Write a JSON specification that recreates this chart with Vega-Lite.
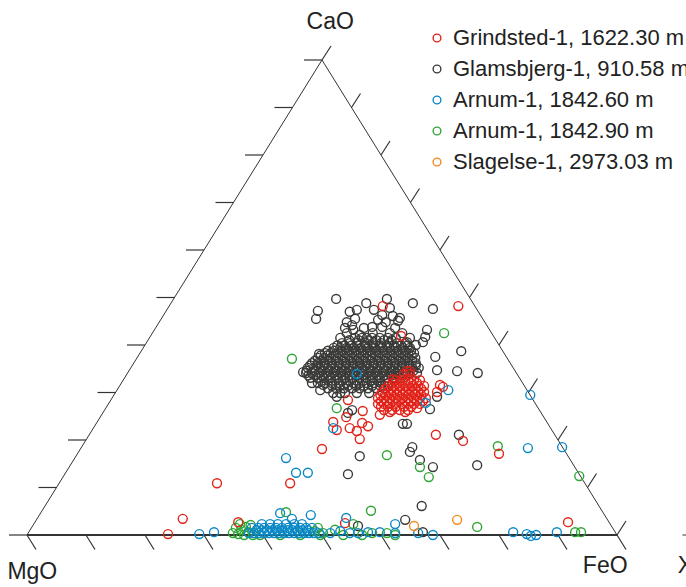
{
"$schema":"https://vega.github.io/schema/vega-lite/v6.json",
"width":686,"height":587,"padding":0,"autosize":{"type":"none"},
"background":"white",
"config":{"view":{"stroke":null}},
"datasets":{
"edges":[{"x":0,"y":0,"o":0},{"x":50,"y":100,"o":1},{"x":100,"y":0,"o":2}],
"base":[{"x":0,"y":0,"x2":100}],
"stub":[{"x":111.1,"y":0,"x2":112}],
"leftTicks":[{"x":0,"y":0},{"x":5,"y":10},{"x":10,"y":20},{"x":15,"y":30},{"x":20,"y":40},{"x":25,"y":50},{"x":30,"y":60},{"x":35,"y":70},{"x":40,"y":80},{"x":45,"y":90},{"x":50,"y":100}],
"baseTicks":[{"x":0,"y":0},{"x":10,"y":0},{"x":20,"y":0},{"x":30,"y":0},{"x":40,"y":0},{"x":50,"y":0},{"x":60,"y":0},{"x":70,"y":0},{"x":80,"y":0},{"x":90,"y":0},{"x":100,"y":0}],
"rightTicks":[{"x":100,"y":0},{"x":95,"y":10},{"x":90,"y":20},{"x":85,"y":30},{"x":80,"y":40},{"x":75,"y":50},{"x":70,"y":60},{"x":65,"y":70},{"x":60,"y":80},{"x":55,"y":90},{"x":50,"y":100}],
"labels":[{"label":"CaO","x":51.4,"y":106.5},{"label":"MgO","x":0.9,"y":-9.3},{"label":"FeO","x":98.0,"y":-8.0},{"label":"X","x":111.6,"y":-8.0}],
"glamsbjerg":[
{"x":52.4,"y":49.7},{"x":57.5,"y":48.8},{"x":61.0,"y":49.7},{"x":65.4,"y":48.8},{"x":68.8,"y":47.6},{"x":49.3,"y":47.2},{"x":49.0,"y":45.5},{"x":54.7,"y":47.0},{"x":55.9,"y":47.4},{"x":55.6,"y":45.5},{"x":54.2,"y":44.8},{"x":58.8,"y":47.4},{"x":60.2,"y":46.3},{"x":61.5,"y":47.8},{"x":62.0,"y":46.1},{"x":62.9,"y":45.1},{"x":63.2,"y":45.7},{"x":58.5,"y":43.8},{"x":60.2,"y":43.8},{"x":61.5,"y":42.5},{"x":58.6,"y":42.5},{"x":55.3,"y":43.2},{"x":54.2,"y":42.5},{"x":56.4,"y":42.1},{"x":57.6,"y":41.5},{"x":67.8,"y":43.2},{"x":67.5,"y":41.7},{"x":67.1,"y":40.6},{"x":65.9,"y":40.0},{"x":64.4,"y":40.6},{"x":49.5,"y":38.1},{"x":69.2,"y":37.5},{"x":73.6,"y":38.7},{"x":72.9,"y":34.5},{"x":69.5,"y":34.7},{"x":46.8,"y":34.3},{"x":48.3,"y":32.0},{"x":49.7,"y":30.5},{"x":50.2,"y":31.6},{"x":76.4,"y":34.1},{"x":68.3,"y":26.5},{"x":54.4,"y":25.7},{"x":55.1,"y":26.3},{"x":63.7,"y":23.4},{"x":64.4,"y":23.4},{"x":73.2,"y":21.1},{"x":65.3,"y":18.5},{"x":64.9,"y":17.5},{"x":66.6,"y":15.8},{"x":68.8,"y":14.3},{"x":76.3,"y":14.7},{"x":66.9,"y":6.1},{"x":64.1,"y":3.2},{"x":67.1,"y":0.6},{"x":56.4,"y":16.6},{"x":54.4,"y":12.8},{"x":56.1,"y":1.9},{"x":53.1,"y":29.9},{"x":52.5,"y":29.1},{"x":69.5,"y":29.1},{"x":53.9,"y":43.6},{"x":55.1,"y":44.2},{"x":59.5,"y":45.3},{"x":60.8,"y":44.8},{"x":62.4,"y":43.6},{"x":63.6,"y":42.5},{"x":57.1,"y":43.6},{"x":64.9,"y":41.5},{"x":53.1,"y":41.5},
{"x":55.6,"y":41.5},{"x":56.8,"y":41.5},{"x":58.5,"y":41.5},{"x":59.8,"y":41.5},{"x":61.2,"y":41.5},{"x":62.5,"y":41.5},
{"x":54.6,"y":41.0},{"x":56.2,"y":41.0},{"x":57.9,"y":41.0},{"x":59.2,"y":41.0},{"x":60.5,"y":41.0},{"x":61.8,"y":41.0},
{"x":53.4,"y":40.4},{"x":54.7,"y":40.4},{"x":55.9,"y":40.4},{"x":57.3,"y":40.4},{"x":58.6,"y":40.4},{"x":60.0,"y":40.4},{"x":61.4,"y":40.4},{"x":62.7,"y":40.4},{"x":64.1,"y":40.4},
{"x":52.6,"y":39.9},{"x":53.8,"y":39.9},{"x":55.0,"y":39.9},{"x":56.2,"y":39.9},{"x":57.4,"y":39.9},{"x":58.6,"y":39.9},{"x":59.8,"y":39.9},{"x":61.0,"y":39.9},{"x":62.2,"y":39.9},{"x":63.4,"y":39.9},{"x":64.5,"y":39.9},
{"x":52.0,"y":39.4},{"x":53.1,"y":39.4},{"x":54.2,"y":39.4},{"x":55.4,"y":39.4},{"x":56.6,"y":39.4},{"x":57.8,"y":39.4},{"x":59.0,"y":39.4},{"x":60.2,"y":39.4},{"x":61.4,"y":39.4},{"x":62.5,"y":39.4},{"x":63.7,"y":39.4},{"x":64.9,"y":39.4},
{"x":51.0,"y":38.8},{"x":52.1,"y":38.8},{"x":53.3,"y":38.8},{"x":54.5,"y":38.8},{"x":55.7,"y":38.8},{"x":56.9,"y":38.8},{"x":58.1,"y":38.8},{"x":59.2,"y":38.8},{"x":60.4,"y":38.8},{"x":61.6,"y":38.8},{"x":62.8,"y":38.8},{"x":64.0,"y":38.8},{"x":65.1,"y":38.8},
{"x":50.5,"y":38.3},{"x":51.5,"y":38.3},{"x":52.7,"y":38.3},{"x":53.9,"y":38.3},{"x":55.1,"y":38.3},{"x":56.3,"y":38.3},{"x":57.5,"y":38.3},{"x":58.6,"y":38.3},{"x":59.8,"y":38.3},{"x":61.0,"y":38.3},{"x":62.2,"y":38.3},{"x":63.4,"y":38.3},{"x":64.6,"y":38.3},{"x":65.6,"y":38.3},
{"x":49.8,"y":37.8},{"x":50.9,"y":37.8},{"x":52.1,"y":37.8},{"x":53.3,"y":37.8},{"x":54.5,"y":37.8},{"x":55.7,"y":37.8},{"x":56.9,"y":37.8},{"x":58.1,"y":37.8},{"x":59.2,"y":37.8},{"x":60.4,"y":37.8},{"x":61.6,"y":37.8},{"x":62.8,"y":37.8},{"x":64.0,"y":37.8},{"x":65.2,"y":37.8},
{"x":49.3,"y":37.3},{"x":50.3,"y":37.3},{"x":51.5,"y":37.3},{"x":52.7,"y":37.3},{"x":53.9,"y":37.3},{"x":55.1,"y":37.3},{"x":56.3,"y":37.3},{"x":57.5,"y":37.3},{"x":58.6,"y":37.3},{"x":59.8,"y":37.3},{"x":61.0,"y":37.3},{"x":62.2,"y":37.3},{"x":63.4,"y":37.3},{"x":64.6,"y":37.3},{"x":65.8,"y":37.3},
{"x":48.8,"y":36.7},{"x":49.9,"y":36.7},{"x":51.1,"y":36.7},{"x":52.3,"y":36.7},{"x":53.5,"y":36.7},{"x":54.7,"y":36.7},{"x":55.9,"y":36.7},{"x":57.0,"y":36.7},{"x":58.2,"y":36.7},{"x":59.4,"y":36.7},{"x":60.6,"y":36.7},{"x":61.8,"y":36.7},{"x":63.0,"y":36.7},{"x":64.1,"y":36.7},{"x":65.3,"y":36.7},
{"x":48.3,"y":36.2},{"x":49.3,"y":36.2},{"x":50.5,"y":36.2},{"x":51.7,"y":36.2},{"x":52.9,"y":36.2},{"x":54.1,"y":36.2},{"x":55.3,"y":36.2},{"x":56.4,"y":36.2},{"x":57.6,"y":36.2},{"x":58.8,"y":36.2},{"x":60.0,"y":36.2},{"x":61.2,"y":36.2},{"x":62.4,"y":36.2},{"x":63.6,"y":36.2},{"x":64.7,"y":36.2},{"x":65.9,"y":36.2},
{"x":48.0,"y":35.7},{"x":49.2,"y":35.7},{"x":50.4,"y":35.7},{"x":51.6,"y":35.7},{"x":52.8,"y":35.7},{"x":54.0,"y":35.7},{"x":55.2,"y":35.7},{"x":56.4,"y":35.7},{"x":57.5,"y":35.7},{"x":58.7,"y":35.7},{"x":59.9,"y":35.7},{"x":61.1,"y":35.7},{"x":62.3,"y":35.7},{"x":63.5,"y":35.7},{"x":64.7,"y":35.7},{"x":65.9,"y":35.7},
{"x":47.6,"y":35.2},{"x":48.6,"y":35.2},{"x":49.8,"y":35.2},{"x":51.0,"y":35.2},{"x":52.2,"y":35.2},{"x":53.4,"y":35.2},{"x":54.6,"y":35.2},{"x":55.8,"y":35.2},{"x":56.9,"y":35.2},{"x":58.1,"y":35.2},{"x":59.3,"y":35.2},{"x":60.5,"y":35.2},{"x":61.7,"y":35.2},{"x":62.9,"y":35.2},{"x":64.1,"y":35.2},{"x":65.3,"y":35.2},{"x":66.4,"y":35.2},
{"x":47.4,"y":34.6},{"x":48.9,"y":34.6},{"x":50.1,"y":34.6},{"x":51.3,"y":34.6},{"x":52.5,"y":34.6},{"x":53.7,"y":34.6},{"x":54.8,"y":34.6},{"x":56.0,"y":34.6},{"x":57.2,"y":34.6},{"x":58.4,"y":34.6},{"x":59.6,"y":34.6},{"x":60.8,"y":34.6},{"x":62.0,"y":34.6},{"x":63.1,"y":34.6},{"x":64.3,"y":34.6},{"x":65.5,"y":34.6},
{"x":47.3,"y":34.1},{"x":48.3,"y":34.1},{"x":49.5,"y":34.1},{"x":50.7,"y":34.1},{"x":51.9,"y":34.1},{"x":53.1,"y":34.1},{"x":54.2,"y":34.1},{"x":55.4,"y":34.1},{"x":56.6,"y":34.1},{"x":57.8,"y":34.1},{"x":59.0,"y":34.1},{"x":60.2,"y":34.1},{"x":61.4,"y":34.1},{"x":62.5,"y":34.1},{"x":63.7,"y":34.1},{"x":64.9,"y":34.1},{"x":66.1,"y":34.1},
{"x":47.7,"y":33.6},{"x":48.9,"y":33.6},{"x":50.0,"y":33.6},{"x":51.1,"y":33.6},{"x":52.3,"y":33.6},{"x":53.5,"y":33.6},{"x":54.7,"y":33.6},{"x":55.9,"y":33.6},{"x":57.0,"y":33.6},{"x":58.2,"y":33.6},{"x":59.4,"y":33.6},{"x":60.6,"y":33.6},{"x":61.8,"y":33.6},{"x":63.0,"y":33.6},
{"x":48.0,"y":33.1},{"x":49.2,"y":33.1},{"x":50.3,"y":33.1},{"x":51.5,"y":33.1},{"x":52.7,"y":33.1},{"x":53.9,"y":33.1},{"x":55.1,"y":33.1},{"x":56.3,"y":33.1},{"x":57.5,"y":33.1},{"x":58.6,"y":33.1},{"x":59.8,"y":33.1},{"x":61.0,"y":33.1},{"x":62.2,"y":33.1},{"x":63.4,"y":33.1},
{"x":49.9,"y":32.5},{"x":51.1,"y":32.5},{"x":52.3,"y":32.5},{"x":53.5,"y":32.5},{"x":54.7,"y":32.5},{"x":55.9,"y":32.5},{"x":57.0,"y":32.5},{"x":58.2,"y":32.5},{"x":59.4,"y":32.5},{"x":60.6,"y":32.5},
{"x":49.3,"y":32.0},{"x":50.5,"y":32.0},{"x":51.7,"y":32.0},{"x":52.9,"y":32.0},{"x":54.1,"y":32.0},{"x":55.3,"y":32.0},{"x":56.4,"y":32.0},{"x":57.6,"y":32.0},{"x":58.8,"y":32.0},{"x":60.0,"y":32.0},{"x":61.2,"y":32.0},
{"x":51.7,"y":31.4},{"x":53.0,"y":31.4},{"x":54.4,"y":31.4},{"x":55.8,"y":31.4},{"x":57.1,"y":31.4},{"x":58.5,"y":31.4},{"x":59.9,"y":31.4},
{"x":51.0,"y":30.9},{"x":52.4,"y":30.9},{"x":53.7,"y":30.9},{"x":55.1,"y":30.9},{"x":56.4,"y":30.9},{"x":57.8,"y":30.9},{"x":59.2,"y":30.9},{"x":60.5,"y":30.9},
{"x":51.9,"y":29.9},{"x":53.9,"y":29.9},{"x":55.9,"y":29.9},{"x":58.0,"y":29.9}
],
"arnum90":[
{"x":70.7,"y":42.5},{"x":44.9,"y":37.1},{"x":52.5,"y":26.7},{"x":61.0,"y":16.8},{"x":79.8,"y":18.7},{"x":66.6,"y":14.3},{"x":68.1,"y":12.2},{"x":93.6,"y":12.4},{"x":76.3,"y":1.7},{"x":92.9,"y":0.6},{"x":93.9,"y":0.6},{"x":43.9,"y":4.8},{"x":58.3,"y":5.1},{"x":55.3,"y":2.3},{"x":49.3,"y":1.5},{"x":50.2,"y":0.4},{"x":53.6,"y":0.0},{"x":56.8,"y":0.0},{"x":61.0,"y":0.4},{"x":62.4,"y":0.0},{"x":58.5,"y":0.4},{"x":52.2,"y":1.1},
{"x":34.9,"y":0.4},{"x":35.4,"y":1.5},{"x":35.8,"y":0.2},{"x":36.3,"y":1.1},{"x":36.8,"y":0.0},{"x":37.1,"y":1.7},{"x":37.5,"y":0.6},{"x":37.9,"y":2.1},{"x":38.3,"y":0.0},{"x":39.5,"y":0.0},{"x":42.9,"y":0.0},{"x":46.3,"y":0.0},{"x":48.8,"y":0.8},{"x":49.7,"y":0.0},{"x":36.1,"y":2.3}
],
"grindsted":[
{"x":60.3,"y":48.2},{"x":73.1,"y":48.2},{"x":63.4,"y":41.9},{"x":64.4,"y":34.5},{"x":64.9,"y":34.5},{"x":62.0,"y":32.8},{"x":70.0,"y":31.6},{"x":70.5,"y":31.2},{"x":69.5,"y":30.1},{"x":54.4,"y":28.4},{"x":56.9,"y":26.1},{"x":54.1,"y":24.8},{"x":51.9,"y":23.8},{"x":54.7,"y":22.5},{"x":55.9,"y":21.9},{"x":56.8,"y":23.6},{"x":57.8,"y":22.9},{"x":56.4,"y":20.2},{"x":52.5,"y":22.1},{"x":69.3,"y":21.1},{"x":73.9,"y":19.8},{"x":50.0,"y":18.1},{"x":80.0,"y":17.1},{"x":91.7,"y":2.7},{"x":32.2,"y":10.9},{"x":44.6,"y":10.9},{"x":26.4,"y":3.4},{"x":23.9,"y":0.2},{"x":35.8,"y":2.7},{"x":53.9,"y":2.5},{"x":59.8,"y":25.3},{"x":61.5,"y":25.9},{"x":64.1,"y":25.9},{"x":66.1,"y":26.7},
{"x":63.9,"y":33.9},{"x":64.9,"y":33.9},
{"x":62.5,"y":32.6},{"x":63.6,"y":32.6},{"x":64.6,"y":32.6},{"x":65.6,"y":32.6},{"x":66.6,"y":32.6},
{"x":62.0,"y":32.0},{"x":63.1,"y":32.0},{"x":64.1,"y":32.0},{"x":65.1,"y":32.0},{"x":66.1,"y":32.0},
{"x":61.2,"y":31.4},{"x":62.2,"y":31.4},{"x":63.2,"y":31.4},{"x":64.2,"y":31.4},{"x":65.3,"y":31.4},{"x":66.3,"y":31.4},{"x":67.3,"y":31.4},
{"x":60.7,"y":30.8},{"x":61.7,"y":30.8},{"x":62.7,"y":30.8},{"x":63.7,"y":30.8},{"x":64.7,"y":30.8},{"x":65.8,"y":30.8},{"x":66.8,"y":30.8},
{"x":60.2,"y":30.1},{"x":61.2,"y":30.1},{"x":62.2,"y":30.1},{"x":63.2,"y":30.1},{"x":64.2,"y":30.1},{"x":65.3,"y":30.1},{"x":66.3,"y":30.1},{"x":67.3,"y":30.1},
{"x":59.9,"y":29.5},{"x":60.7,"y":29.5},{"x":61.7,"y":29.5},{"x":62.7,"y":29.5},{"x":63.7,"y":29.5},{"x":64.7,"y":29.5},{"x":65.8,"y":29.5},{"x":66.8,"y":29.5},
{"x":59.5,"y":28.8},{"x":60.5,"y":28.8},{"x":61.5,"y":28.8},{"x":62.5,"y":28.8},{"x":63.6,"y":28.8},{"x":64.6,"y":28.8},{"x":65.6,"y":28.8},{"x":66.6,"y":28.8},{"x":67.6,"y":28.8},
{"x":60.0,"y":28.2},{"x":61.0,"y":28.2},{"x":62.0,"y":28.2},{"x":63.0,"y":28.2},{"x":64.1,"y":28.2},{"x":65.1,"y":28.2},{"x":66.1,"y":28.2},{"x":67.1,"y":28.2},
{"x":59.5,"y":27.6},{"x":60.5,"y":27.6},{"x":61.5,"y":27.6},{"x":62.5,"y":27.6},{"x":63.6,"y":27.6},{"x":64.6,"y":27.6},{"x":65.6,"y":27.6},{"x":66.6,"y":27.6},
{"x":60.0,"y":27.0},{"x":61.2,"y":27.0},{"x":62.5,"y":27.0},{"x":63.9,"y":27.0},{"x":65.1,"y":27.0},
{"x":60.5,"y":26.3},{"x":61.9,"y":26.3},{"x":63.2,"y":26.3},{"x":64.6,"y":26.3}
],
"arnum60":[
{"x":55.9,"y":33.9},{"x":51.9,"y":22.5},{"x":67.6,"y":27.8},{"x":71.4,"y":30.5},{"x":85.3,"y":29.5},{"x":84.9,"y":18.3},{"x":90.7,"y":18.5},{"x":43.9,"y":16.2},{"x":45.6,"y":13.1},{"x":47.6,"y":13.1},{"x":42.9,"y":4.6},{"x":44.9,"y":3.4},{"x":48.1,"y":4.2},{"x":54.1,"y":3.6},{"x":29.2,"y":0.2},{"x":31.7,"y":0.6},{"x":62.4,"y":2.3},{"x":62.4,"y":0.4},{"x":66.3,"y":0.4},{"x":68.8,"y":0.0},{"x":59.8,"y":0.6},{"x":57.8,"y":0.6},{"x":56.1,"y":0.4},{"x":54.7,"y":0.4},{"x":82.4,"y":0.6},{"x":84.7,"y":0.2},{"x":85.4,"y":-0.2},{"x":86.3,"y":0.0},{"x":89.8,"y":0.6},{"x":53.1,"y":0.8},{"x":51.4,"y":0.4},
{"x":37.6,"y":0.4},{"x":38.5,"y":0.4},{"x":39.3,"y":0.4},{"x":40.2,"y":0.4},{"x":41.0,"y":0.4},{"x":41.9,"y":0.4},{"x":42.7,"y":0.4},{"x":43.6,"y":0.4},{"x":44.4,"y":0.4},{"x":45.3,"y":0.4},{"x":46.1,"y":0.4},{"x":47.0,"y":0.4},{"x":47.8,"y":0.4},{"x":48.6,"y":0.4},{"x":49.5,"y":0.4},
{"x":38.9,"y":1.0},{"x":39.8,"y":1.0},{"x":40.7,"y":1.0},{"x":41.6,"y":1.0},{"x":42.4,"y":1.0},{"x":43.3,"y":1.0},{"x":44.2,"y":1.0},{"x":45.0,"y":1.0},{"x":45.9,"y":1.0},{"x":46.7,"y":1.0},{"x":47.6,"y":1.0},
{"x":38.1,"y":1.5},{"x":39.2,"y":1.5},{"x":40.2,"y":1.5},{"x":41.2,"y":1.5},{"x":42.2,"y":1.5},{"x":43.2,"y":1.5},{"x":44.2,"y":1.5},{"x":45.3,"y":1.5},{"x":46.3,"y":1.5},{"x":47.3,"y":1.5},{"x":48.3,"y":1.5},
{"x":39.8,"y":2.3},{"x":41.2,"y":2.3},{"x":42.5,"y":2.3},{"x":43.9,"y":2.3},{"x":45.3,"y":2.3},{"x":46.6,"y":2.3}
],
"slagelse":[{"x":65.6,"y":1.9},{"x":72.9,"y":3.2}]
},
"encoding":{
"x":{"field":"x","type":"quantitative","scale":{"domain":[-4.576,111.695],"nice":false,"zero":false},"axis":null},
"y":{"field":"y","type":"quantitative","scale":{"domain":[-10.947,112.632],"nice":false,"zero":false},"axis":null}
},
"layer":[
{"data":{"name":"edges"},"mark":{"type":"line","color":"#333333","strokeWidth":1},"encoding":{"order":{"field":"o"}}},
{"data":{"name":"base"},"mark":{"type":"rule","color":"#333333","strokeWidth":2},"encoding":{"x2":{"field":"x2"}}},
{"data":{"name":"stub"},"mark":{"type":"rule","color":"#333333","strokeWidth":1},"encoding":{"x2":{"field":"x2"}}},
{"data":{"name":"leftTicks"},"mark":{"type":"rule","color":"#333333","strokeWidth":1.2,"x2Offset":-18},"encoding":{"x2":{"field":"x"},"y2":{"field":"y"}}},
{"data":{"name":"baseTicks"},"mark":{"type":"rule","color":"#333333","strokeWidth":1.2,"x2Offset":9,"y2Offset":14.5},"encoding":{"x2":{"field":"x"},"y2":{"field":"y"}}},
{"data":{"name":"rightTicks"},"mark":{"type":"rule","color":"#333333","strokeWidth":1.2,"x2Offset":9,"y2Offset":-14},"encoding":{"x2":{"field":"x"},"y2":{"field":"y"}}},
{"data":{"name":"glamsbjerg"},"mark":{"type":"point","shape":"circle","filled":false,"size":80,"strokeWidth":1.4,"opacity":1},
 "encoding":{"color":{"datum":"Glamsbjerg-1, 910.58 m","type":"nominal",
  "scale":{"domain":["Grindsted-1, 1622.30 m","Glamsbjerg-1, 910.58 m","Arnum-1, 1842.60 m","Arnum-1, 1842.90 m","Slagelse-1, 2973.03 m"],"range":["#e2231a","#3a3a38","#0b88c6","#2ea534","#f08a1c"]},
  "legend":{"orient":"none","legendX":426,"legendY":27,"title":null,"labelFontSize":22,"labelFont":"Liberation Sans","labelColor":"#222222","labelLimit":400,"symbolSize":60,"symbolStrokeWidth":1.4,"symbolType":"circle","rowPadding":9,"labelOffset":5,"padding":0}}}},
{"data":{"name":"arnum90"},"mark":{"type":"point","shape":"circle","filled":false,"size":80,"strokeWidth":1.4,"opacity":1},"encoding":{"color":{"datum":"Arnum-1, 1842.90 m","type":"nominal"}}},
{"data":{"name":"grindsted"},"mark":{"type":"point","shape":"circle","filled":false,"size":80,"strokeWidth":1.4,"opacity":1},"encoding":{"color":{"datum":"Grindsted-1, 1622.30 m","type":"nominal"}}},
{"data":{"name":"arnum60"},"mark":{"type":"point","shape":"circle","filled":false,"size":80,"strokeWidth":1.4,"opacity":1},"encoding":{"color":{"datum":"Arnum-1, 1842.60 m","type":"nominal"}}},
{"data":{"name":"slagelse"},"mark":{"type":"point","shape":"circle","filled":false,"size":80,"strokeWidth":1.4,"opacity":1},"encoding":{"color":{"datum":"Slagelse-1, 2973.03 m","type":"nominal"}}},
{"data":{"name":"labels"},"mark":{"type":"text","font":"Liberation Sans","fontSize":23,"color":"#222222","baseline":"alphabetic","align":"center"},"encoding":{"text":{"field":"label"}}}
]
}
